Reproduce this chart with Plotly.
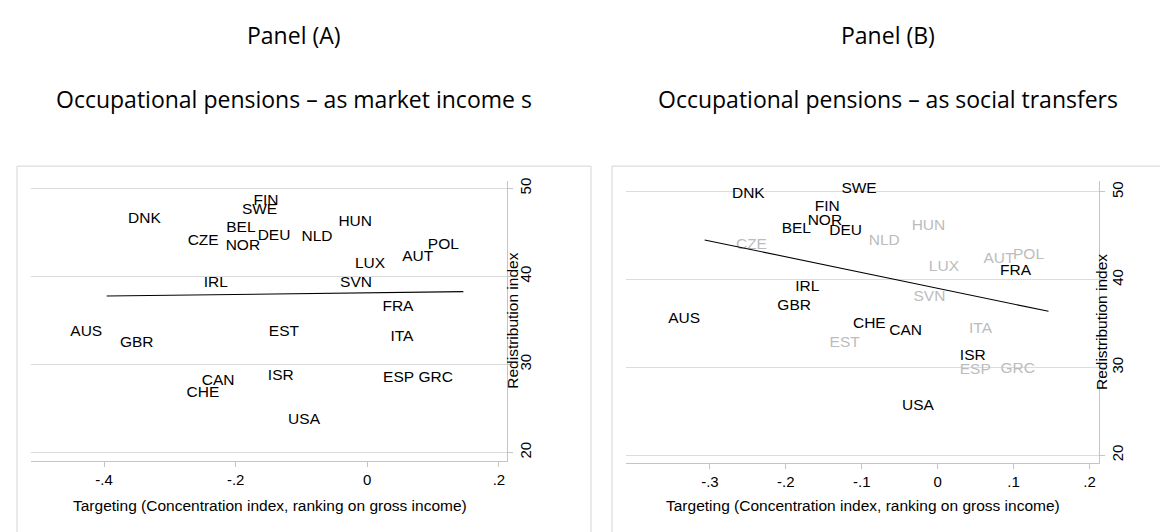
import numpy as np
import plotly.graph_objects as go

W, H = 1168, 532

countries = ["DNK", "FIN", "SWE", "BEL", "CZE", "NOR", "DEU", "NLD", "HUN", "POL",
             "AUT", "LUX", "IRL", "SVN", "FRA", "AUS", "GBR", "EST", "ITA", "CAN",
             "CHE", "ISR", "USA", "ESP", "GRC"]

# Panel (A): occupational pensions as market income
targeting_a = [-0.307, -0.128, -0.130, -0.163, -0.219, -0.156, -0.110, -0.046, 0.014, 0.146,
               0.107, 0.034, -0.205, 0.014, 0.077, -0.396, -0.318, -0.097, 0.077, -0.195,
               -0.218, -0.105, -0.065, 0.078, 0.137]
redistribution_a = [46.54, 48.60, 47.47, 45.49, 44.05, 43.41, 44.54, 44.42, 46.16, 43.60,
                    42.21, 41.42, 39.28, 39.20, 36.46, 33.70, 32.39, 33.63, 33.14, 28.10,
                    26.78, 28.62, 23.66, 28.44, 28.44]
# linear fit shown in panel (A): [intercept, slope]
fit_a = [38.13, 0.907]

# Panel (B): occupational pensions as social transfers
targeting_b = [-0.222, -0.123, -0.0744, -0.161, -0.219, -0.120, -0.0938, -0.0441, 0.0159, 0.146,
               0.107, 0.034, -0.150, 0.016, 0.129, -0.307, -0.161, -0.0968, 0.0775, -0.0148,
               -0.0626, 0.0692, 0.001, 0.0758, 0.134]
redistribution_b = [49.74, 48.22, 50.34, 45.77, 43.91, 46.71, 45.58, 44.36, 46.15, 42.78,
                    42.29, 41.46, 39.19, 38.06, 40.96, 35.49, 36.99, 32.73, 34.35, 34.16,
                    34.92, 31.26, 25.59, 29.74, 29.82]
# countries drawn in grey in panel (B)
grey_b = [False, False, False, False, True, False, False, True, True, True,
          True, True, False, True, False, False, False, True, True, False,
          False, False, False, True, True]
# linear fit shown in panel (B): [intercept, slope]
fit_b = [39.02, -17.96]

xticks_a = [-0.4, -0.2, 0, 0.2]
xticklabels_a = ["-.4", "-.2", "0", ".2"]
xticks_b = [-0.3, -0.2, -0.1, 0, 0.1, 0.2]
xticklabels_b = ["-.3", "-.2", "-.1", "0", ".1", ".2"]
yticks = [20, 30, 40, 50]
yticklabels = ["20", "30", "40", "50"]

panel_titles = ["Panel (A)", "Panel (B)"]
panel_subtitles = ["Occupational pensions \u2013 as market income s",
                   "Occupational pensions \u2013 as social transfers"]
xtitle = "Targeting (Concentration index, ranking on gross income)"
ytitle = "Redistribution index"

FONT = "Liberation Sans, Arial, sans-serif"
TFONT = "Open Sans, sans-serif"
GREY_TXT = "#bcbcbc"
GRID = "#dcdcdc"
AX = "#c4c4c4"

def px_x(p):
    return p / W

def px_y(p):
    return 1 - p / H

fig = go.Figure()

# invisible markers give the Stata-like gap between point and label
inv_marker = dict(size=5.6, color="rgba(0,0,0,0)")

# Panel A labels
fig.add_trace(go.Scatter(
    x=targeting_a, y=redistribution_a, text=countries, mode="markers+text",
    marker=inv_marker, textposition="middle left",
    textfont=dict(family=FONT, size=15.5, color="#000000"),
    xaxis="x", yaxis="y", showlegend=False, hoverinfo="skip"))

# Panel A fit line
xa = np.array(targeting_a)
fxa = np.array([xa.min(), xa.max()])
fig.add_trace(go.Scatter(x=fxa, y=fit_a[0] + fit_a[1] * fxa, mode="lines",
                         line=dict(color="#000000", width=1.1),
                         xaxis="x", yaxis="y", showlegend=False, hoverinfo="skip"))

# Panel B labels
colors_b = [GREY_TXT if g else "#000000" for g in grey_b]
fig.add_trace(go.Scatter(
    x=targeting_b, y=redistribution_b, text=countries, mode="markers+text",
    marker=inv_marker, textposition="middle left",
    textfont=dict(family=FONT, size=15.5, color=colors_b),
    xaxis="x2", yaxis="y2", showlegend=False, hoverinfo="skip"))

xb = np.array(targeting_b)
fxb = np.array([xb.min(), xb.max()])
fig.add_trace(go.Scatter(x=fxb, y=fit_b[0] + fit_b[1] * fxb, mode="lines",
                         line=dict(color="#000000", width=1.1),
                         xaxis="x2", yaxis="y2", showlegend=False, hoverinfo="skip"))

xaxis_common = dict(showgrid=False, zeroline=False, showline=True, linecolor=AX, linewidth=1,
                    ticks="outside", ticklen=5, tickcolor=AX, tickwidth=1,
                    tickfont=dict(family=FONT, size=15, color="#000000"))
yaxis_common = dict(showgrid=True, gridcolor=GRID, gridwidth=1, zeroline=False,
                    showline=True, linecolor=AX, linewidth=1, side="right",
                    ticks="outside", ticklen=5, tickcolor=AX, tickwidth=1,
                    tickangle=-90, tickvals=yticks, ticktext=yticklabels,
                    tickfont=dict(family=FONT, size=15, color="#000000"))

fig.update_layout(
    width=W, height=H,
    margin=dict(l=0, r=0, t=0, b=0),
    paper_bgcolor="white", plot_bgcolor="white",
    xaxis=dict(domain=[px_x(22.7), px_x(499.3)], range=[-0.5115, 0.2128],
               tickvals=xticks_a, ticktext=xticklabels_a, anchor="y", **xaxis_common),
    yaxis=dict(domain=[px_y(452.3), px_y(170.7)], range=[19.06, 50.86], anchor="x",
               **yaxis_common),
    xaxis2=dict(domain=[px_x(617.7), px_x(1090.7)], range=[-0.411, 0.2121],
                tickvals=xticks_b, ticktext=xticklabels_b, anchor="y2", **xaxis_common),
    yaxis2=dict(domain=[px_y(455), px_y(170.7)], range=[19.06, 51.28], anchor="x2",
                **yaxis_common),
)

shapes = [
    dict(type="rect", xref="paper", yref="paper", x0=px_x(9), x1=px_x(583),
         y0=px_y(560), y1=px_y(156), line=dict(color="#d4d4d4", width=1)),
    dict(type="rect", xref="paper", yref="paper", x0=px_x(604), x1=px_x(1200),
         y0=px_y(560), y1=px_y(156), line=dict(color="#d4d4d4", width=1)),
]
fig.update_layout(shapes=shapes)

ann = []
for cx, t, s in [(286, panel_titles[0], panel_subtitles[0]), (880, panel_titles[1], panel_subtitles[1])]:
    ann.append(dict(x=px_x(cx), y=px_y(24), xref="paper", yref="paper", text=t, showarrow=False,
                    xanchor="center", yanchor="middle", font=dict(family=TFONT, size=23, color="#000000")))
    ann.append(dict(x=px_x(cx), y=px_y(89), xref="paper", yref="paper", text=s, showarrow=False,
                    xanchor="center", yanchor="middle", font=dict(family=TFONT, size=23, color="#000000")))

for cx, cy in [(261.7, 497.7), (854.5, 497.7)]:
    ann.append(dict(x=px_x(cx), y=px_y(cy), xref="paper", yref="paper", text=xtitle, showarrow=False,
                    xanchor="center", yanchor="middle", font=dict(family=FONT, size=15.5, color="#000000")))
for cx, cy in [(505, 311.5), (1093, 312.8)]:
    ann.append(dict(x=px_x(cx), y=px_y(cy), xref="paper", yref="paper", text=ytitle, showarrow=False,
                    textangle=-90, xanchor="center", yanchor="middle",
                    font=dict(family=FONT, size=15.5, color="#000000")))
fig.update_layout(annotations=ann)

fig.write_html("out.html")
